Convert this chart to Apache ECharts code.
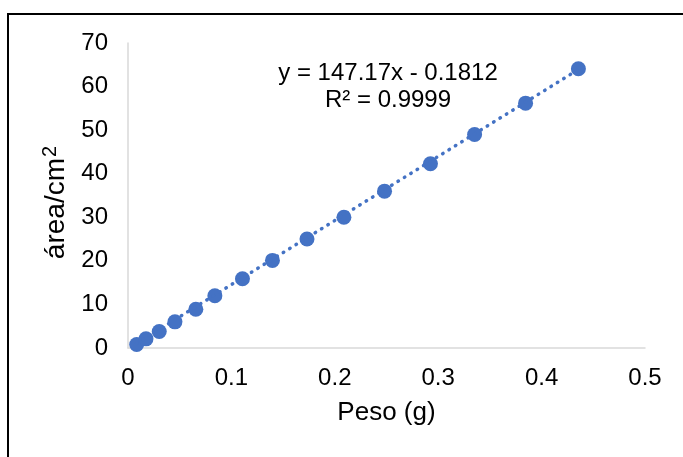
<!DOCTYPE html>
<html>
<head>
<meta charset="utf-8">
<style>
  html, body { margin: 0; padding: 0; background: #fff; }
  #chart { width: 683px; height: 457px; }
</style>
<script src="https://cdn.jsdelivr.net/npm/echarts@6/dist/echarts.min.js"></script>
</head>
<body>
<div id="chart"></div>
<script>
// peso (g) and área (cm2)
var peso = [0.0084, 0.0174, 0.0302, 0.0454, 0.0656, 0.0840, 0.1107, 0.1397,
            0.1731, 0.2088, 0.2481, 0.2925, 0.3352, 0.3845, 0.4356];
var area = [0.8, 2.1, 3.8, 6.0, 8.9, 12.0, 15.9, 20.1,
            25.0, 30.0, 36.0, 42.3, 49.0, 56.2, 64.1];

// linear trendline as printed on the chart
var slope = 147.17;
var intercept = -0.1812;
var r2 = 0.9999;

var points = [];
for (var i = 0; i < peso.length; i++) {
  points.push([peso[i], area[i]]);
}
var xFirst = peso[0];
var xLast = peso[peso.length - 1];
var trend = [
  [xFirst, slope * xFirst + intercept],
  [xLast, slope * xLast + intercept]
];

var blue = '#4472C4';
var font = '"Liberation Sans", Arial, sans-serif';

var chart = echarts.init(document.getElementById('chart'));
chart.setOption({
  animation: false,
  backgroundColor: '#fff',
  grid: { left: 128, right: 38, top: 43, bottom: 109 },
  xAxis: {
    type: 'value',
    min: 0,
    max: 0.5,
    interval: 0.1,
    name: 'Peso (g)',
    nameLocation: 'middle',
    nameGap: 52,
    nameTextStyle: { fontFamily: font, fontSize: 26, color: '#000' },
    axisLine: { show: true, lineStyle: { color: '#D9D9D9', width: 1.5 } },
    axisTick: { show: false },
    splitLine: { show: false },
    axisLabel: { margin: 18, fontFamily: font, fontSize: 24, color: '#000' }
  },
  yAxis: {
    type: 'value',
    min: 0,
    max: 70,
    interval: 10,
    name: 'área/cm{sup|2}',
    nameLocation: 'middle',
    nameGap: 56,
    nameTextStyle: {
      fontFamily: font, fontSize: 28, color: '#000',
      padding: [0, 14, 0, 0],
      rich: {
        sup: { fontFamily: font, fontSize: 20, color: '#000', verticalAlign: 'top', padding: [0, 0, 12, 1] }
      }
    },
    axisLine: { show: true, lineStyle: { color: '#D9D9D9', width: 1.5 } },
    axisTick: { show: false },
    splitLine: { show: false },
    axisLabel: { margin: 20, fontFamily: font, fontSize: 24, color: '#000' }
  },
  graphic: [
    {
      type: 'rect',
      shape: { x: 8, y: 14, width: 700, height: 480 },
      style: { fill: 'none', stroke: '#000', lineWidth: 2 },
      z: 100
    },
    {
      type: 'text',
      x: 388,
      y: 73,
      style: {
        text: 'y = ' + slope + 'x - ' + Math.abs(intercept),
        fontFamily: font, fontSize: 24, fill: '#000',
        align: 'center', verticalAlign: 'middle'
      }
    },
    {
      type: 'text',
      x: 388,
      y: 100,
      style: {
        text: 'R² = ' + r2,
        fontFamily: font, fontSize: 24, fill: '#000',
        align: 'center', verticalAlign: 'middle'
      }
    }
  ],
  series: [
    {
      type: 'scatter',
      data: points,
      symbol: 'circle',
      symbolSize: 15,
      itemStyle: { color: blue, opacity: 1 }
    },
    {
      type: 'line',
      data: trend,
      symbol: 'none',
      silent: true,
      z: 3,
      lineStyle: { color: blue, width: 3.5, type: [0.5, 7], cap: 'round' }
    }
  ]
});
</script>
</body>
</html>
